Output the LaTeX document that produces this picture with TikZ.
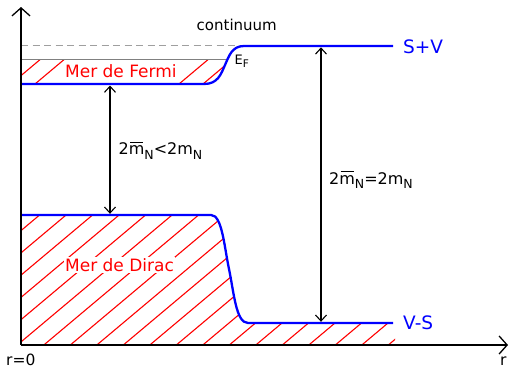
\documentclass[tikz,border=0pt]{standalone}
\usepackage{fontspec}
\setmainfont{DejaVu Sans}
\usetikzlibrary{arrows.meta}
\newcommand\mbarsub{\rlap{\hspace{0.08em}\rule[0.72em]{0.82em}{0.065em}}m\raisebox{-0.3em}{\fontsize{12.5}{12.5}\selectfont N}}
\newcommand\msub{m\raisebox{-0.3em}{\fontsize{12.5}{12.5}\selectfont N}}
\begin{document}
\begin{tikzpicture}[x=1pt,y=-1pt,line join=round,
  axis/.style={line width=1.3pt,-{Straight Barb[length=8pt,width=18pt,line width=1.3pt]}},
  level/.style={blue,line width=2.3pt},
  hatch/.style={red,line width=1.1pt},
  gap/.style={line width=1.1pt,{Straight Barb[length=6pt,width=11pt]}-{Straight Barb[length=6pt,width=11pt]}},
  lbl/.style={inner sep=0pt,anchor=base west},
]
\useasboundingbox (0,0) rectangle (509,368);
\coordinate (O) at (21,345);
\coordinate (ytop) at (21,7);
\coordinate (xend) at (508,345);
% Fermi hatching
\begin{scope}
  \clip (21,59) rectangle (300,84);
  \clip (0,84) -- (204,84) .. controls (218,84) and (221,74) .. (225,65) .. controls (229,56) and (232,46) .. (244,46) -- (0,46) -- cycle;
  \foreach \x in {11,35,179,203} {\draw[hatch] (\x-10,92.4) -- (\x+40,50.4);}
\end{scope}
% Dirac hatching
\begin{scope}
  \clip (21,215) -- (211,215) .. controls (222,215) and (224,245) .. (229,269) .. controls (234,293) and (236,323) .. (248,323) -- (395,323) -- (395,344) -- (21,344) -- cycle;
  \foreach \k in {-14,...,6} {\pgfmathsetmacro\xb{231.7+26.5*\k}\draw[hatch] (\xb-10,351.4) -- (\xb+180,191.8);}
\end{scope}
% levels
\draw[gray!75,line width=1pt,dash pattern=on 7pt off 4.5pt] (21,45) -- (240,45);
\draw[gray,line width=1pt] (21,59) -- (228,59);
\coordinate (up1) at (21,84);
\coordinate (up2) at (393,46);
\coordinate (lo1) at (21,215);
\coordinate (lo2) at (393,323);
\draw[level] (up1) -- (204,84) .. controls (218,84) and (221,74) .. (225,65) .. controls (229,56) and (232,46) .. (244,46) -- (up2);
\draw[level] (lo1) -- (211,215) .. controls (222,215) and (224,245) .. (229,269) .. controls (234,293) and (236,323) .. (248,323) -- (lo2);
% labels
\node[lbl,red,fill=white,inner sep=1.5pt] (fermi) at (63.5,77.3) {\fontsize{17}{20}\selectfont Mer de Fermi};
\node[lbl,red,fill=white,inner sep=1.5pt] (dirac) at (63.5,271.7) {\fontsize{17}{20}\selectfont Mer de Dirac};
\node[lbl] (cont) at (196.5,30) {\fontsize{15}{18}\selectfont continuum};
\node[lbl] (ef) at (234.5,64) {\fontsize{13}{15}\selectfont E\raisebox{-0.3em}{\fontsize{10.5}{11}\selectfont F}};
\node[lbl,blue] (sv) at (403,53.3) {\fontsize{18.5}{21}\selectfont S+V};
\node[lbl,blue] (vs) at (403,329) {\fontsize{18.5}{21}\selectfont V-S};
\node[lbl] (lt) at (118.5,154.5) {\fontsize{16}{19}\selectfont 2\mbarsub<2\msub};
\node[lbl] (eq) at (329,184) {\fontsize{16}{19}\selectfont 2\mbarsub=2\msub};
\node[lbl] (r0) at (6,365) {\fontsize{15.5}{18}\selectfont r=0};
\node[lbl] (r) at (500,365) {\fontsize{15.5}{18}\selectfont r};
% gap arrows
\coordinate (a1) at (110,85.5);
\coordinate (a2) at (110,213.8);
\coordinate (b1) at (321,47.3);
\coordinate (b2) at (321,321.8);
\draw[gap] (a1) -- (a2);
\draw[gap] (b1) -- (b2);
% axes
\draw[axis] (O) -- (ytop);
\draw[axis] (O) -- (xend);
\end{tikzpicture}
\end{document}
